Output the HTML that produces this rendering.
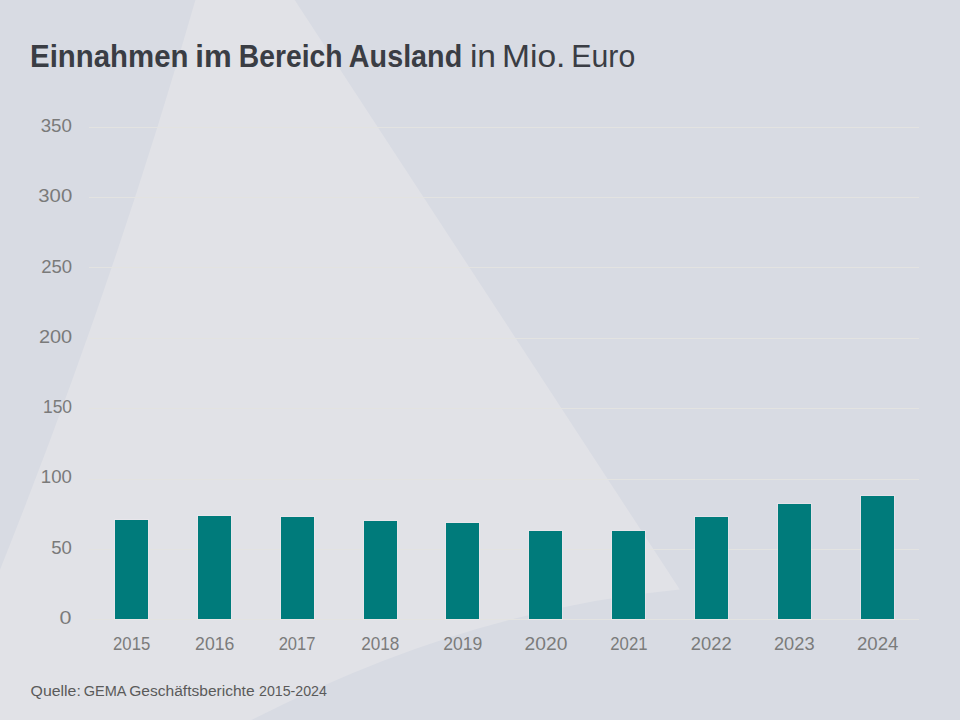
<!DOCTYPE html>
<html><head><meta charset="utf-8"><title>Einnahmen im Bereich Ausland</title>
<style>
html,body{margin:0;padding:0;width:960px;height:720px;overflow:hidden;background:#d8dbe3;}
svg{display:block;}
text{font-family:"Liberation Sans",sans-serif;}
</style></head><body>
<svg width="960" height="720" viewBox="0 0 960 720" xmlns="http://www.w3.org/2000/svg">
<rect x="0" y="0" width="960" height="720" fill="#d8dbe3"/>
<path d="M195.4,0 L294.7,0 L679.8,589.5 Q459.9,610.1 240,726.1 L-12.2,726.1 L-12.2,600 Q109.5,300 195.4,0 Z" fill="#e1e2e7"/>
<g fill="#e3e3e1">
<rect x="89" y="127" width="830" height="1"/>
<rect x="89" y="197" width="830" height="1"/>
<rect x="89" y="267" width="830" height="1"/>
<rect x="89" y="338" width="830" height="1"/>
<rect x="89" y="408" width="830" height="1"/>
<rect x="89" y="479" width="830" height="1"/>
<rect x="89" y="549" width="830" height="1"/>
<rect x="89" y="619" width="830" height="1"/>
</g>
<g fill="#f1eaf0" fill-opacity="0.45">
<rect x="114" y="519" width="35" height="101"/>
<rect x="197" y="515" width="35" height="105"/>
<rect x="280" y="516" width="35" height="104"/>
<rect x="363" y="520" width="35" height="100"/>
<rect x="445" y="522" width="35" height="98"/>
<rect x="528" y="530" width="35" height="90"/>
<rect x="611" y="530" width="35" height="90"/>
<rect x="694" y="516" width="35" height="104"/>
<rect x="777" y="503" width="35" height="117"/>
<rect x="860" y="495" width="35" height="125"/>
</g>
<g fill="#007b7b">
<rect x="115" y="520" width="33" height="99"/>
<rect x="198" y="516" width="33" height="103"/>
<rect x="281" y="517" width="33" height="102"/>
<rect x="364" y="521" width="33" height="98"/>
<rect x="446" y="523" width="33" height="96"/>
<rect x="529" y="531" width="33" height="88"/>
<rect x="612" y="531" width="33" height="88"/>
<rect x="695" y="517" width="33" height="102"/>
<rect x="778" y="504" width="33" height="115"/>
<rect x="861" y="496" width="33" height="123"/>
</g>
<g font-size="30.5" fill="#3a3d44">
<text x="30.07" y="66.5" font-weight="bold" textLength="158.47" lengthAdjust="spacingAndGlyphs">Einnahmen</text>
<text x="195.26" y="66.5" font-weight="bold" textLength="36.37" lengthAdjust="spacingAndGlyphs">im</text>
<text x="238.74" y="66.5" font-weight="bold" textLength="103.81" lengthAdjust="spacingAndGlyphs">Bereich</text>
<text x="348.86" y="66.5" font-weight="bold" textLength="113.33" lengthAdjust="spacingAndGlyphs">Ausland</text>
<text x="469.9" y="66.5" textLength="26.13" lengthAdjust="spacingAndGlyphs">in</text>
<text x="502.0" y="66.5" textLength="63.39" lengthAdjust="spacingAndGlyphs">Mio.</text>
<text x="571.32" y="66.5" textLength="63.9" lengthAdjust="spacingAndGlyphs">Euro</text>
</g>
<g font-size="18.5" fill="#7a7a7a">
<text x="40.69" y="132" textLength="31.19" lengthAdjust="spacingAndGlyphs">350</text>
<text x="38.3" y="202.3" textLength="33.91" lengthAdjust="spacingAndGlyphs">300</text>
<text x="41.2" y="272.6" textLength="30.93" lengthAdjust="spacingAndGlyphs">250</text>
<text x="38.92" y="342.9" textLength="33.27" lengthAdjust="spacingAndGlyphs">200</text>
<text x="42.96" y="413.2" textLength="29.07" lengthAdjust="spacingAndGlyphs">150</text>
<text x="40.89" y="483.4" textLength="31.05" lengthAdjust="spacingAndGlyphs">100</text>
<text x="51.2" y="553.7" textLength="20.63" lengthAdjust="spacingAndGlyphs">50</text>
<text x="59.64" y="624" textLength="11.96" lengthAdjust="spacingAndGlyphs">0</text>
</g>
<g font-size="17.7" fill="#7b7b7b">
<text x="113.06" y="649.8" textLength="37.18" lengthAdjust="spacingAndGlyphs">2015</text>
<text x="195.1" y="649.8" textLength="39.26" lengthAdjust="spacingAndGlyphs">2016</text>
<text x="278.67" y="649.8" textLength="36.77" lengthAdjust="spacingAndGlyphs">2017</text>
<text x="361.13" y="649.8" textLength="38.22" lengthAdjust="spacingAndGlyphs">2018</text>
<text x="443.21" y="649.8" textLength="39.15" lengthAdjust="spacingAndGlyphs">2019</text>
<text x="524.61" y="649.8" textLength="42.78" lengthAdjust="spacingAndGlyphs">2020</text>
<text x="610.25" y="649.8" textLength="37.29" lengthAdjust="spacingAndGlyphs">2021</text>
<text x="690.86" y="649.8" textLength="40.81" lengthAdjust="spacingAndGlyphs">2022</text>
<text x="773.97" y="649.8" textLength="40.6" lengthAdjust="spacingAndGlyphs">2023</text>
<text x="856.95" y="649.8" textLength="41.43" lengthAdjust="spacingAndGlyphs">2024</text>
</g>
<g font-size="14.7" fill="#5a5a5a">
<text x="30.62" y="696" textLength="50.25" lengthAdjust="spacingAndGlyphs">Quelle:</text>
<text x="83.71" y="696" textLength="42.75" lengthAdjust="spacingAndGlyphs">GEMA</text>
<text x="129.24" y="696" textLength="125.36" lengthAdjust="spacingAndGlyphs">Geschäftsberichte</text>
<text x="259.03" y="696" textLength="67.91" lengthAdjust="spacingAndGlyphs">2015-2024</text>
</g>
</svg>
</body></html>
